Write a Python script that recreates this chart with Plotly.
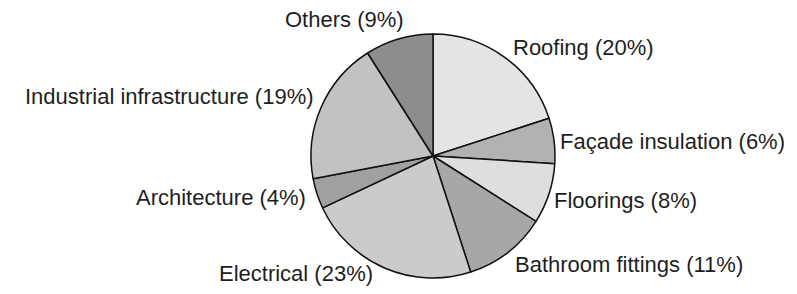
import math
import plotly.graph_objects as go

categories = ["Roofing", "Façade insulation", "Floorings", "Bathroom fittings",
              "Electrical", "Architecture", "Industrial infrastructure", "Others"]
values = [20, 6, 8, 11, 23, 4, 19, 9]
colors = ["#e4e4e4", "#b2b2b2", "#dedede", "#a7a7a7",
          "#cbcbcb", "#a0a0a0", "#c2c2c2", "#8d8d8d"]
label_text = [f"{c} ({v}%)" for c, v in zip(categories, values)]

# the page body has an 8px margin; size the figure so it fits the window
OFF = 8
W, H = 797 - 2 * OFF, 294 - 2 * OFF
cx, cy, r = 433 - OFF, 156 - OFF, 122   # pie centre / radius in pixels (layout)
LABEL_GAP = 12                          # radial gap between rim and label anchor
# per-label styling nudges (pixels) and horizontal anchors
label_nudge = [(-1, 0), (-8, 2.5), (-8, 3), (-2.5, 3), (-5, -5), (2, 0.5), (5.5, -6), (10, -7.5)]
label_anchor = ["left", "left", "left", "left", "right", "right", "right", "right"]

fig = go.Figure(go.Pie(
    labels=categories,
    values=values,
    textinfo="none",
    sort=False,
    direction="clockwise",
    rotation=0,
    marker=dict(colors=colors, line=dict(color="#111111", width=1.5)),
    hoverinfo="label+percent",
    showlegend=False,
    domain=dict(x=[(cx - r) / W, (cx + r) / W], y=[1 - (cy + r) / H, 1 - (cy - r) / H]),
))

# place labels at each slice's mid-angle (derived from the values)
total = sum(values)
cum = 0
for txt, v, (dx, dy), anc in zip(label_text, values, label_nudge, label_anchor):
    mid = (cum + v / 2) / total * 2 * math.pi
    cum += v
    px = cx + (r + LABEL_GAP) * math.sin(mid) + dx
    py = cy - (r + LABEL_GAP) * math.cos(mid) + dy
    fig.add_annotation(
        x=px / W, y=1 - py / H, xref="paper", yref="paper",
        text=txt, showarrow=False, xanchor=anc, yanchor="middle",
        font=dict(family="Liberation Sans, Arial, sans-serif", size=22, color="#1e1e1e"),
    )

fig.update_layout(
    width=W, height=H,
    margin=dict(l=0, r=0, t=0, b=0),
    paper_bgcolor="white",
    plot_bgcolor="white",
)

fig.write_html("out.html")
